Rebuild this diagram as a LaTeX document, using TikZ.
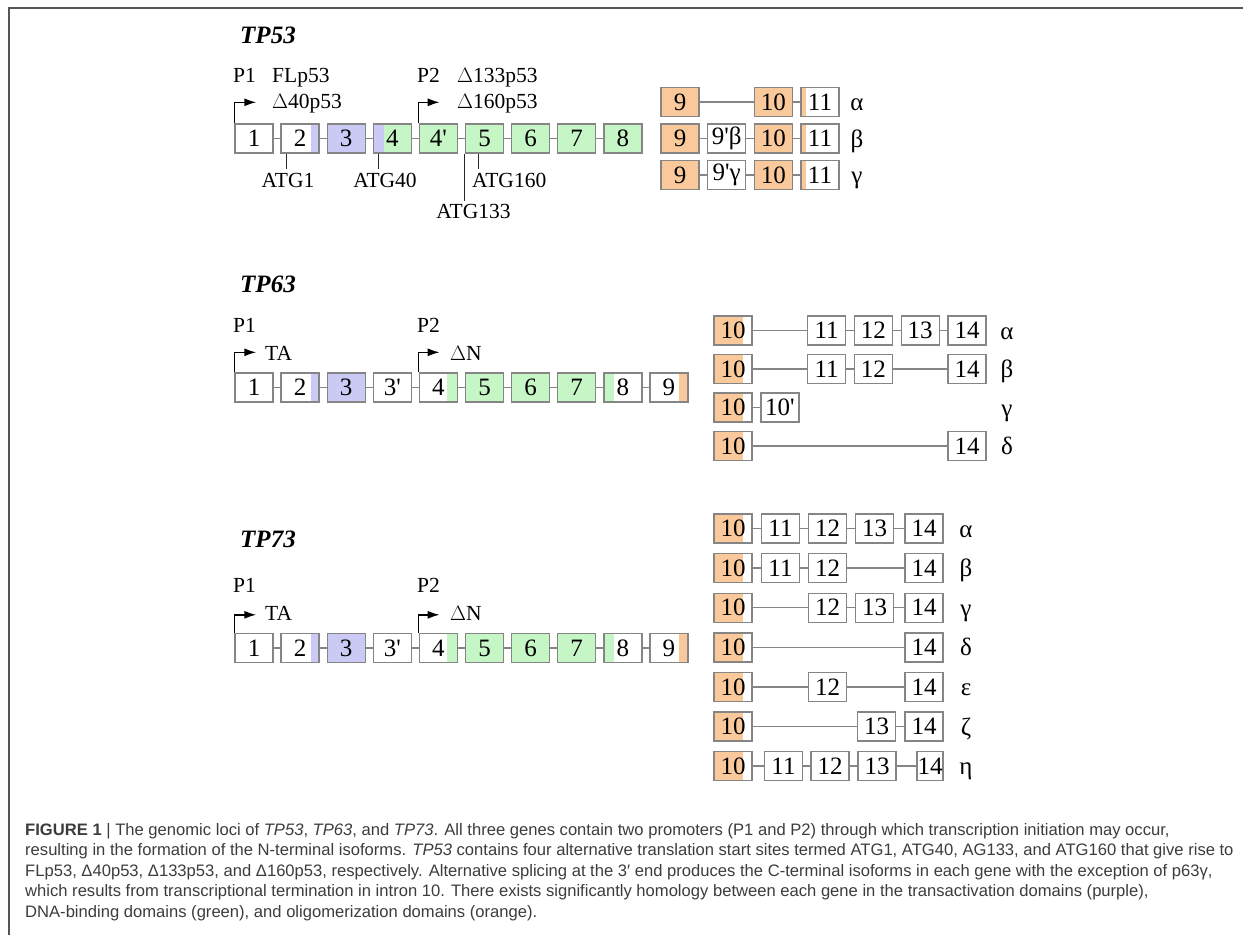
\documentclass[tikz,border=0pt]{standalone}
\usepackage{fontspec}
\setmainfont{Liberation Serif}
\newfontfamily\capfont{Liberation Sans}
\usetikzlibrary{arrows.meta}

\definecolor{tapurple}{HTML}{CACAF5}
\definecolor{dbgreen}{HTML}{C6F5C6}
\definecolor{oligo}{HTML}{F9C99C}
\definecolor{boxgray}{HTML}{858585}
\definecolor{framegray}{HTML}{555555}
\definecolor{captext}{HTML}{3C3C3C}

\tikzset{
  exon/.style={draw=boxgray, line width=1.4pt, minimum width=38pt, minimum height=29pt,
               inner sep=0pt, font=\fontsize{25}{25}\selectfont},
  link/.style={draw=boxgray, line width=1.3pt},
  lbl/.style={font=\fontsize{21.5}{22}\selectfont, inner sep=0pt, anchor=base west},
  atg/.style={font=\fontsize{21.5}{22}\selectfont, inner sep=0pt, anchor=base},
  gk/.style={font=\fontsize{25}{25}\selectfont, inner sep=0pt, anchor=base},
  gene/.style={font=\fontsize{25}{25}\selectfont\bfseries\itshape, inner sep=0pt, anchor=base west},
  tick/.style={draw=black!85, line width=1.3pt},
  prom/.style={draw=black, line width=1.5pt, -{Latex[length=12pt,width=8pt]}},
  capline/.style={font=\capfont\fontsize{16.6}{19}\selectfont, text=captext, inner sep=0pt, anchor=base west},
  % colour a strip at the left or right end of an exon
  partL/.style 2 args={path picture={\fill[#1] (path picture bounding box.north west)
      rectangle ([xshift=#2]path picture bounding box.south west);}},
  partR/.style 2 args={path picture={\fill[#1] ([xshift=-#2]path picture bounding box.north east)
      rectangle (path picture bounding box.south east);}},
}

\begin{document}
\begin{tikzpicture}[x=1pt, y=-1pt]
\useasboundingbox (0,0) rectangle (1243,935);
\draw[framegray, line width=2pt] (9,935) -- (9,8) -- (1243,8);

% ---------------- TP53 ----------------
\node[gene] (g53) at (240,43) {TP53};
\node[lbl] (p53a) at (233,82) {P1};
\node[lbl] (fl53) at (272,82) {FLp53};
\node[lbl] (d40) at (272,108) {$\Delta$40p53};
\node[lbl] (p53b) at (417,82) {P2};
\node[lbl] (d133) at (457,82) {$\Delta$133p53};
\node[lbl] (d160) at (457,108) {$\Delta$160p53};

\node[exon] (a1) at (254,138.5) {1};
\node[exon, partR={tapurple}{8pt}] (a2) at (300.1,138.5) {2};
\node[exon, fill=tapurple] (a3) at (346.2,138.5) {3};
\node[exon, fill=dbgreen, partL={tapurple}{11pt}] (a4) at (392.3,138.5) {4};
\node[exon, fill=dbgreen] (a4p) at (438.4,138.5) {4\textquotesingle};
\node[exon, fill=dbgreen] (a5) at (484.5,138.5) {5};
\node[exon, fill=dbgreen] (a6) at (530.6,138.5) {6};
\node[exon, fill=dbgreen] (a7) at (576.7,138.5) {7};
\node[exon, fill=dbgreen] (a8) at (622.8,138.5) {8};
\draw[link] (a1) -- (a2) -- (a3) -- (a4) -- (a4p) -- (a5) -- (a6) -- (a7) -- (a8);

\draw[prom] (a1.north west) |- ++(22,-21);
\draw[prom] (a4p.north west) |- ++(21,-21);

\node[atg] (atg1) at (288,187) {ATG1};
\node[atg] (atg40) at (385,187) {ATG40};
\node[lbl] (atg160) at (472,187) {ATG160};
\node[atg] (atg133) at (473.5,218) {ATG133};
\draw[tick] ([xshift=6pt]a2.south west) -- ++(0,15);
\draw[tick] ([xshift=6pt]a4.south west) -- ++(0,15);
\draw[tick] (a5.south west) -- ++(0,47);
\draw[tick] ([xshift=14pt]a5.south west) -- ++(0,15);

% C-terminal exons of TP53
\node[exon, fill=oligo] (ba9) at (680,102) {9};
\node[exon, fill=oligo] (ba10) at (773.4,102) {10};
\node[exon, partL={oligo}{5pt}] (ba11) at (820,102) {11};
\draw[link] (ba9) -- (ba10) -- (ba11);
\node[gk] (la53) at (857,110.5) {α};

\node[exon, fill=oligo] (bb9) at (680,138.5) {9};
\node[exon] (bb9p) at (726.7,138.5) {9\textquotesingle β};
\node[exon, fill=oligo] (bb10) at (773.4,138.5) {10};
\node[exon, partL={oligo}{5pt}] (bb11) at (820,138.5) {11};
\draw[link] (bb9) -- (bb9p) -- (bb10) -- (bb11);
\node[gk] (lb53) at (857,147) {β};

\node[exon, fill=oligo] (bc9) at (680,175) {9};
\node[exon] (bc9p) at (726.7,175) {9\textquotesingle γ};
\node[exon, fill=oligo] (bc10) at (773.4,175) {10};
\node[exon, partL={oligo}{5pt}] (bc11) at (820,175) {11};
\draw[link] (bc9) -- (bc9p) -- (bc10) -- (bc11);
\node[gk] (lc53) at (857,183.5) {γ};

% ---------------- TP63 ----------------
\node[gene] (g63) at (240,292.7) {TP63};
\node[lbl] (p63a) at (233,332) {P1};
\node[lbl] (p63b) at (417,332) {P2};
\node[lbl] (ta63) at (265,360) {TA};
\node[lbl] (dn63) at (450,360) {$\Delta$N};

\node[exon] (c1) at (254,387.5) {1};
\node[exon, partR={tapurple}{8pt}] (c2) at (300.1,387.5) {2};
\node[exon, fill=tapurple] (c3) at (346.2,387.5) {3};
\node[exon] (c3p) at (392.3,387.5) {3\textquotesingle};
\node[exon, partR={dbgreen}{10pt}] (c4) at (438.4,387.5) {4};
\node[exon, fill=dbgreen] (c5) at (484.5,387.5) {5};
\node[exon, fill=dbgreen] (c6) at (530.6,387.5) {6};
\node[exon, fill=dbgreen] (c7) at (576.7,387.5) {7};
\node[exon, partL={dbgreen}{10pt}] (c8) at (622.8,387.5) {8};
\node[exon, partR={oligo}{9pt}] (c9) at (668.9,387.5) {9};
\draw[link] (c1) -- (c2) -- (c3) -- (c3p) -- (c4) -- (c5) -- (c6) -- (c7) -- (c8) -- (c9);
\draw[prom] (c1.north west) |- ++(22,-20);
\draw[prom] (c4.north west) |- ++(21,-20);

% C-terminal exons of TP63
\node[exon, partL={oligo}{29pt}] (da10) at (733,330.5) {10};
\node[exon] (da11) at (826.6,330.5) {11};
\node[exon] (da12) at (873.4,330.5) {12};
\node[exon] (da13) at (920.2,330.5) {13};
\node[exon] (da14) at (967,330.5) {14};
\draw[link] (da10) -- (da11) -- (da12) -- (da13) -- (da14);
\node[gk] (la63) at (1007,339) {α};

\node[exon, partL={oligo}{29pt}] (db10) at (733,369) {10};
\node[exon] (db11) at (826.6,369) {11};
\node[exon] (db12) at (873.4,369) {12};
\node[exon] (db14) at (967,369) {14};
\draw[link] (db10) -- (db11) -- (db12) -- (db14);
\node[gk] (lb63) at (1007,377.5) {β};

\node[exon, partL={oligo}{29pt}] (dc10) at (733,407.5) {10};
\node[exon] (dc10p) at (779.8,407.5) {10\textquotesingle};
\draw[link] (dc10) -- (dc10p);
\node[gk] (lc63) at (1007,416) {γ};

\node[exon, partL={oligo}{29pt}] (dd10) at (733,446) {10};
\node[exon] (dd14) at (967,446) {14};
\draw[link] (dd10) -- (dd14);
\node[gk] (ld63) at (1007,454.5) {δ};

% ---------------- TP73 ----------------
\node[gene] (g73) at (240,547.7) {TP73};
\node[lbl] (p73a) at (233,592) {P1};
\node[lbl] (p73b) at (417,592) {P2};
\node[lbl] (ta73) at (265,620) {TA};
\node[lbl] (dn73) at (450,620) {$\Delta$N};

\node[exon] (e1) at (254,648) {1};
\node[exon, partR={tapurple}{8pt}] (e2) at (300.1,648) {2};
\node[exon, fill=tapurple] (e3) at (346.2,648) {3};
\node[exon] (e3p) at (392.3,648) {3\textquotesingle};
\node[exon, partR={dbgreen}{10pt}] (e4) at (438.4,648) {4};
\node[exon, fill=dbgreen] (e5) at (484.5,648) {5};
\node[exon, fill=dbgreen] (e6) at (530.6,648) {6};
\node[exon, fill=dbgreen] (e7) at (576.7,648) {7};
\node[exon, partL={dbgreen}{10pt}] (e8) at (622.8,648) {8};
\node[exon, partR={oligo}{9pt}] (e9) at (668.9,648) {9};
\draw[link] (e1) -- (e2) -- (e3) -- (e3p) -- (e4) -- (e5) -- (e6) -- (e7) -- (e8) -- (e9);
\draw[prom] (e1.north west) |- ++(22,-18);
\draw[prom] (e4.north west) |- ++(21,-18);

% C-terminal exons of TP73
\node[exon, partL={oligo}{29pt}] (fa10) at (733,528.5) {10};
\node[exon] (fa11) at (780.5,528.5) {11};
\node[exon] (fa12) at (827.5,528.5) {12};
\node[exon] (fa13) at (874.5,528.5) {13};
\node[exon] (fa14) at (924,528.5) {14};
\draw[link] (fa10) -- (fa11) -- (fa12) -- (fa13) -- (fa14);
\node[gk] (la73) at (966,537) {α};

\node[exon, partL={oligo}{29pt}] (fb10) at (733,568.1) {10};
\node[exon] (fb11) at (780.5,568.1) {11};
\node[exon] (fb12) at (827.5,568.1) {12};
\node[exon] (fb14) at (924,568.1) {14};
\draw[link] (fb10) -- (fb11) -- (fb12) -- (fb14);
\node[gk] (lb73) at (966,576.6) {β};

\node[exon, partL={oligo}{29pt}] (fc10) at (733,607.7) {10};
\node[exon] (fc12) at (827.5,607.7) {12};
\node[exon] (fc13) at (874.5,607.7) {13};
\node[exon] (fc14) at (924,607.7) {14};
\draw[link] (fc10) -- (fc12) -- (fc13) -- (fc14);
\node[gk] (lc73) at (966,616.2) {γ};

\node[exon, partL={oligo}{29pt}] (fd10) at (733,647.3) {10};
\node[exon] (fd14) at (924,647.3) {14};
\draw[link] (fd10) -- (fd14);
\node[gk] (ld73) at (966,655.8) {δ};

\node[exon, partL={oligo}{29pt}] (fe10) at (733,686.9) {10};
\node[exon] (fe12) at (827.5,686.9) {12};
\node[exon] (fe14) at (924,686.9) {14};
\draw[link] (fe10) -- (fe12) -- (fe14);
\node[gk] (le73) at (966,695.4) {ε};

\node[exon, partL={oligo}{29pt}] (ff10) at (733,726.5) {10};
\node[exon] (ff13) at (876.5,726.5) {13};
\node[exon] (ff14) at (924,726.5) {14};
\draw[link] (ff10) -- (ff13) -- (ff14);
\node[gk] (lf73) at (966,735) {ζ};

\node[exon, partL={oligo}{29pt}] (fg10) at (733,766.1) {10};
\node[exon] (fg11) at (783.5,766.1) {11};
\node[exon] (fg12) at (830,766.1) {12};
\node[exon] (fg13) at (877,766.1) {13};
\node[exon, minimum width=26pt] (fg14) at (930,766.1) {14};
\draw[link] (fg10) -- (fg11) -- (fg12) -- (fg13) -- (fg14);
\node[gk] (lg73) at (966,774.6) {η};

% ---------------- caption ----------------
\node[capline] (cap1) at (25,835) {\textbf{FIGURE 1} | The genomic loci of \textit{TP53}, \textit{TP63}, and \textit{TP73}. All three genes contain two promoters (P1 and P2) through which transcription initiation may occur,};
\node[capline] (cap2) at (25,855.5) {resulting in the formation of the N-terminal isoforms. \textit{TP53} contains four alternative translation start sites termed ATG1, ATG40, AG133, and ATG160 that give rise to};
\node[capline] (cap3) at (25,876) {FLp53, Δ40p53, Δ133p53, and Δ160p53, respectively. Alternative splicing at the 3′ end produces the C-terminal isoforms in each gene with the exception of p63γ,};
\node[capline] (cap4) at (25,896.5) {which results from transcriptional termination in intron 10. There exists significantly homology between each gene in the transactivation domains (purple),};
\node[capline] (cap5) at (25,917) {DNA-binding domains (green), and oligomerization domains (orange).};
\end{tikzpicture}
\end{document}
